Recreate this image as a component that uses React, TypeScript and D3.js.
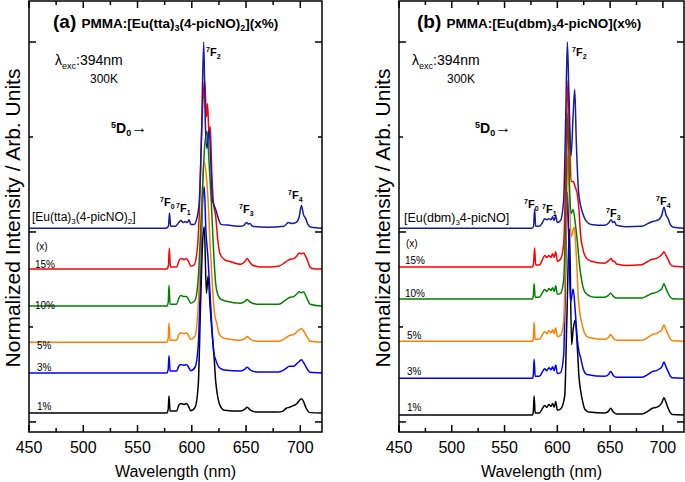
import * as d3 from 'd3';

type Pt = [number, number];

// wavelength axis
const WL_DOMAIN: [number, number] = [450, 720];
const WL_MAJOR = [450, 500, 550, 600, 650, 700];
const WL_MINOR = [475, 525, 575, 625, 675];
const Y_MAJOR = [0, 1, 2];
const Y_MINOR = [0.5, 1.5];

// ---- panel (a) PMMA:[Eu(tta)3(4-picNO)2] ----
const ttaPure: Pt[] = [[450,0],[576,0],[578.5,0.01],[579.5,0.08],[580.5,0.01],[585,0.01],[588,0.03],[590,0.04],[592,0.03],[594,0.035],[596,0.03],[597.5,0.045],[599,0.02],[602,0.02],[605,0.06],[607,0.15],[609,0.5],[611,0.98],[612.5,0.55],[614,0.42],[616,0.52],[617.5,0.35],[619,0.15],[620.5,0.12],[622,0.1],[624,0.06],[627,0.02],[635,0.015],[645,0.01],[648,0.015],[650.5,0.03],[652,0.022],[653.5,0.025],[656,0.01],[670,0.005],[685,0.01],[689,0.03],[692,0.025],[696,0.03],[699,0.06],[701,0.12],[703,0.07],[705,0.05],[707,0.02],[710,0.005],[720,0]];
const tta15: Pt[] = [[450,0],[577,0],[578.5,0.02],[579.3,0.11],[580.3,0.01],[586,0.01],[588,0.04],[590,0.055],[593,0.05],[595,0.055],[597,0.04],[599,0.015],[602,0.02],[605,0.1],[607,0.3],[609,0.7],[611,0.95],[612,0.99],[613.5,0.8],[614.5,0.87],[616,0.7],[617,0.75],[618.5,0.5],[620,0.35],[622,0.28],[624,0.15],[626,0.08],[630,0.05],[635,0.04],[645,0.025],[649,0.04],[651,0.055],[653,0.04],[656,0.02],[665,0.01],[680,0.015],[686,0.035],[690,0.05],[694,0.055],[697,0.07],[699,0.085],[701,0.08],[703,0.085],[705,0.065],[707,0.04],[709,0.01],[712,0.002],[720,0]];
const tta10: Pt[] = [[450,0],[577,0],[578.3,0.02],[579,0.11],[580,0.01],[586,0.01],[588,0.04],[590,0.055],[593,0.05],[595,0.05],[597,0.035],[599,0.015],[603,0.03],[606,0.15],[609,0.5],[612,0.85],[614,0.92],[616,0.75],[618,0.55],[620,0.3],[622,0.12],[624,0.06],[627,0.035],[632,0.025],[645,0.015],[649,0.025],[651,0.035],[654,0.02],[660,0.01],[680,0.01],[686,0.03],[690,0.045],[694,0.05],[697,0.065],[699,0.075],[701,0.07],[703,0.075],[705,0.055],[707,0.03],[709,0.01],[720,0]];
const tta5: Pt[] = [[450,0],[577,0],[578.3,0.02],[579,0.1],[580,0.01],[586,0.01],[588,0.04],[590,0.05],[593,0.045],[595,0.05],[597,0.035],[599,0.015],[603,0.03],[606,0.2],[609,0.65],[611,0.95],[613,0.9],[615,0.75],[617,0.5],[619,0.3],[621,0.15],[623,0.1],[625,0.05],[628,0.025],[635,0.015],[645,0.01],[649,0.02],[651,0.03],[654,0.015],[660,0.005],[680,0.005],[686,0.02],[690,0.035],[694,0.04],[697,0.055],[699,0.065],[701,0.07],[703,0.06],[705,0.04],[707,0.02],[709,0.005],[720,0]];
const tta3: Pt[] = [[450,0],[577,0],[578.3,0.02],[579,0.09],[580,0.01],[586,0.01],[588,0.035],[590,0.045],[593,0.04],[595,0.045],[597,0.03],[599,0.012],[603,0.03],[606,0.15],[608,0.5],[610,0.9],[611.5,0.98],[613,0.75],[615,0.6],[617,0.4],[619,0.2],[620.5,0.1],[622,0.07],[625,0.03],[630,0.015],[645,0.01],[649,0.02],[651,0.03],[654,0.015],[660,0.005],[680,0.005],[686,0.02],[690,0.035],[694,0.035],[697,0.05],[699,0.06],[701,0.07],[703,0.055],[705,0.035],[707,0.015],[709,0.003],[720,0]];
const tta1: Pt[] = [[450,0],[577,0],[578.3,0.02],[579,0.09],[580,0.01],[586,0.01],[588,0.04],[590,0.05],[593,0.045],[595,0.05],[597,0.035],[599,0.012],[603,0.03],[606,0.15],[608,0.55],[610,0.9],[611.5,0.98],[613.5,0.63],[615,0.72],[617,0.55],[619,0.4],[620.5,0.3],[622,0.17],[623.5,0.1],[626,0.04],[630,0.015],[645,0.01],[649,0.02],[651,0.03],[654,0.015],[660,0.005],[680,0.005],[684,0.01],[687,0.025],[690,0.03],[694,0.04],[697,0.05],[699,0.065],[701,0.075],[703,0.06],[705,0.03],[707,0.01],[709,0.002],[720,0]];
const ttaOffsets = [0.047, 0.258, 0.42, 0.61, 0.805, 1.02];

// ---- panel (b) PMMA:[Eu(dbm)3 4-picNO] ----
const dbmPure: Pt[] = [[450,0],[576,0],[577.5,0.01],[578.5,0.1],[579.5,0.01],[583,0.01],[586,0.03],[588,0.05],[590,0.045],[592,0.05],[594,0.045],[595.5,0.06],[597,0.04],[598.5,0.065],[600,0.03],[603,0.04],[606,0.15],[608,0.6],[609.5,0.98],[611,0.7],[613,0.38],[615,0.6],[616.5,0.73],[618,0.45],[620,0.2],[622,0.12],[624,0.08],[627,0.04],[632,0.02],[645,0.015],[649,0.03],[651,0.045],[652.5,0.03],[654,0.035],[656,0.015],[665,0.008],[680,0.01],[686,0.025],[690,0.035],[694,0.04],[697,0.05],[699,0.07],[701,0.11],[703,0.07],[705,0.05],[707,0.02],[710,0.005],[720,0]];
const dbm15: Pt[] = [[450,0],[576.5,0],[577.5,0.02],[578.5,0.1],[579.5,0.01],[583,0.01],[586,0.04],[588,0.06],[590,0.05],[592,0.06],[594,0.05],[595.5,0.07],[597,0.05],[598.5,0.08],[600,0.03],[603,0.04],[606,0.12],[608,0.5],[610,0.98],[611.5,0.7],[613,0.45],[615,0.45],[617,0.42],[619,0.38],[620.5,0.3],[622,0.17],[624,0.1],[627,0.05],[632,0.03],[645,0.02],[649,0.035],[651,0.045],[652.5,0.03],[654,0.03],[656,0.015],[665,0.008],[680,0.012],[686,0.03],[690,0.04],[694,0.045],[697,0.055],[699,0.065],[701,0.08],[703,0.06],[705,0.04],[707,0.015],[710,0.003],[720,0]];
const dbm10: Pt[] = [[450,0],[576.5,0],[577.3,0.02],[578,0.08],[579,0.01],[583,0.01],[586,0.035],[588,0.05],[590,0.04],[592,0.055],[594,0.045],[595.5,0.06],[597,0.04],[598.5,0.07],[600,0.025],[603,0.03],[606,0.1],[608,0.45],[610,0.98],[611.5,0.6],[613,0.45],[615,0.47],[617,0.4],[619,0.3],[621,0.18],[623,0.1],[625,0.05],[628,0.025],[635,0.01],[645,0.01],[648.5,0.02],[650.5,0.03],[653,0.015],[656,0.005],[680,0.005],[686,0.02],[690,0.03],[694,0.035],[697,0.045],[699,0.055],[701,0.08],[703,0.055],[705,0.03],[707,0.01],[709,0.002],[720,0]];
const dbm5: Pt[] = [[450,0],[576.5,0],[577.3,0.02],[578,0.1],[579,0.01],[583,0.01],[586,0.035],[588,0.05],[590,0.04],[592,0.055],[594,0.045],[595.5,0.06],[597,0.04],[598.5,0.07],[600,0.025],[603,0.03],[606,0.1],[608,0.5],[610,0.98],[611.5,0.75],[613,0.55],[616,0.6],[618,0.45],[620,0.22],[621.5,0.14],[623,0.1],[626,0.04],[630,0.02],[645,0.01],[648.5,0.02],[650.5,0.035],[653,0.015],[656,0.005],[680,0.005],[686,0.02],[690,0.035],[694,0.04],[697,0.05],[699,0.06],[701,0.085],[703,0.06],[705,0.035],[707,0.012],[709,0.002],[720,0]];
const dbm3: Pt[] = [[450,0],[576.5,0],[577.3,0.02],[578,0.1],[579,0.01],[583,0.01],[586,0.035],[588,0.05],[590,0.04],[592,0.055],[594,0.045],[595.5,0.06],[597,0.04],[598.5,0.07],[600,0.025],[603,0.03],[606,0.12],[608,0.6],[609.5,0.98],[611,0.7],[612.5,0.4],[615,0.47],[617,0.35],[619,0.2],[620.5,0.14],[622,0.11],[624.5,0.05],[628,0.02],[645,0.01],[648.5,0.02],[650.5,0.035],[653,0.015],[656,0.005],[680,0.005],[686,0.02],[690,0.035],[694,0.04],[697,0.05],[699,0.06],[701,0.085],[703,0.06],[705,0.035],[707,0.012],[709,0.002],[720,0]];
const dbm1: Pt[] = [[450,0],[576.5,0],[577.3,0.02],[578,0.1],[579,0.01],[583,0.01],[586,0.035],[588,0.05],[590,0.04],[592,0.055],[594,0.045],[595.5,0.06],[597,0.04],[598.5,0.07],[600,0.025],[603,0.03],[607,0.1],[609,0.5],[611.5,0.98],[613.5,0.37],[615,0.45],[617,0.5],[619,0.35],[620.5,0.2],[622,0.13],[624,0.07],[626,0.03],[630,0.015],[645,0.01],[648.5,0.02],[650.5,0.035],[653,0.015],[656,0.005],[680,0.005],[686,0.02],[690,0.035],[694,0.04],[697,0.05],[699,0.065],[701,0.09],[703,0.065],[705,0.035],[707,0.012],[709,0.002],[720,0]];
const dbmOffsets = [0.037, 0.23, 0.425, 0.647, 0.816, 1.02];

// labels listed top to bottom
const concLabels = ['15%', '10%', '5%', '3%', '1%'];
const seriesColors = ['#000000', '#0000ff', '#ff8000', '#008000', '#ff0000', '#1a1aa0'];

const FONT = '"Liberation Sans", Arial, Helvetica, sans-serif';
const W = 685;
const H = 482;
const TOP = 1;
const BOTTOM = 432;

interface PanelProps {
  left: number;
  right: number;
  series: Pt[][];
  offsets: number[];
  concLabelY: number[];
  xLabelY: number;
  children?: any;
}

function Panel({ left, right, series, offsets, children, concLabelY, xLabelY }: PanelProps) {
  const x = d3.scaleLinear().domain(WL_DOMAIN).range([left, right]);
  const y = d3.scaleLinear().domain([-0.053, 2.216]).range([BOTTOM, TOP]);

  const paths = series.map((s, i) =>
    d3.line<Pt>()
      .x(d => x(d[0]))
      .y(d => y(offsets[i] + d[1]))
      .curve(d3.curveMonotoneX)(s) || ''
  );

  const midX = (left + right) / 2;

  return (
    <g>
      {paths.map((p, i) => (
        <path key={i} d={p} fill="none" stroke={seriesColors[i]} strokeWidth={1.5} strokeLinejoin="round" />
      ))}

      {/* frame */}
      <rect x={left} y={TOP} width={right - left} height={BOTTOM - TOP} fill="none" stroke="#000" strokeWidth={1.5} />

      {/* x ticks, inward, top & bottom */}
      {WL_MAJOR.map(t => (
        <g key={'M' + t}>
          <line x1={x(t)} x2={x(t)} y1={BOTTOM} y2={BOTTOM - 7} stroke="#000" strokeWidth={1.5} />
          <line x1={x(t)} x2={x(t)} y1={TOP} y2={TOP + 7} stroke="#000" strokeWidth={1.5} />
          <text x={x(t)} y={453} textAnchor="middle" fontSize={16} fontFamily={FONT}>{t}</text>
        </g>
      ))}
      {WL_MINOR.map(t => (
        <g key={'m' + t}>
          <line x1={x(t)} x2={x(t)} y1={BOTTOM} y2={BOTTOM - 4} stroke="#000" strokeWidth={1.5} />
          <line x1={x(t)} x2={x(t)} y1={TOP} y2={TOP + 4} stroke="#000" strokeWidth={1.5} />
        </g>
      ))}
      {/* y ticks both sides */}
      {Y_MAJOR.map(t => (
        <g key={'Y' + t}>
          <line x1={left} x2={left + 7} y1={y(t)} y2={y(t)} stroke="#000" strokeWidth={1.5} />
          <line x1={right} x2={right - 7} y1={y(t)} y2={y(t)} stroke="#000" strokeWidth={1.5} />
        </g>
      ))}
      {Y_MINOR.map(t => (
        <g key={'y' + t}>
          <line x1={left} x2={left + 4} y1={y(t)} y2={y(t)} stroke="#000" strokeWidth={1.5} />
          <line x1={right} x2={right - 4} y1={y(t)} y2={y(t)} stroke="#000" strokeWidth={1.5} />
        </g>
      ))}

      <text x={midX} y={xLabelY} textAnchor="middle" fontSize={16} fontFamily={FONT}>Wavelength (nm)</text>
      <text transform={`translate(${left - 9},218) rotate(-90)`} textAnchor="middle" fontSize={21} fontFamily={FONT}>
        Normalized Intensity / Arb. Units
      </text>

      <text x={left + 7} y={concLabelY[0]} fontSize={10} fontFamily={FONT}>(x)</text>
      {concLabels.map((c, i) => (
        <text key={c} x={left + (c.length === 2 ? 8 : 6)} y={concLabelY[i + 1]} fontSize={10} fontFamily={FONT}>{c}</text>
      ))}
      {children}
    </g>
  );
}

function FLabel({ x, y, n }: { x: number; y: number; n: string }) {
  return (
    <text x={x} y={y} fontSize={11} fontWeight="bold" fontFamily={FONT}>
      <tspan fontSize={7} dy={-4}>7</tspan>
      <tspan dy={4}>F</tspan>
      <tspan fontSize={7} dy={3}>{n}</tspan>
    </text>
  );
}

function Excitation({ x, y }: { x: number; y: number }) {
  return (
    <g fontFamily={FONT}>
      <text x={x} y={y} fontSize={14}>
        λ<tspan fontSize={9} dy={4}>exc</tspan><tspan dy={-4}>:394nm</tspan>
      </text>
      <text x={x + 35} y={y + 18} fontSize={12}>300K</text>
    </g>
  );
}

function D0({ x, y }: { x: number; y: number }) {
  return (
    <text x={x} y={y} fontSize={14} fontWeight="bold" fontFamily={FONT}>
      <tspan fontSize={9} dy={-5}>5</tspan>
      <tspan dy={5}>D</tspan>
      <tspan fontSize={9} dy={3}>0</tspan>
      <tspan dy={-3} fontSize={16}>→</tspan>
    </text>
  );
}

export default function App() {
  return (
    <svg width={W} height={H} style={{ position: 'fixed', left: 0, top: 0, background: '#fff' }}>
      <rect width={W} height={H} fill="#fff" />
      <Panel
        left={29} right={322}
        series={[tta1, tta3, tta5, tta10, tta15, ttaPure]}
        offsets={ttaOffsets}
        concLabelY={[250, 268, 309, 349, 371, 410]}
        xLabelY={477}
      >
        <text x={53} y={28} fontFamily={FONT} fontWeight="bold">
          <tspan fontSize={19}>(a) </tspan>
          <tspan fontSize={13.5}>PMMA:[Eu(tta)</tspan>
          <tspan fontSize={9} dy={3}>3</tspan>
          <tspan fontSize={13.5} dy={-3}>(4-picNO)</tspan>
          <tspan fontSize={9} dy={3}>2</tspan>
          <tspan fontSize={13.5} dy={-3}>](x%)</tspan>
        </text>
        <Excitation x={55} y={65} />
        <D0 x={111} y={133} />
        <FLabel x={206} y={56} n="2" />
        <FLabel x={160} y={206} n="0" />
        <FLabel x={176} y={212} n="1" />
        <FLabel x={239} y={213} n="3" />
        <FLabel x={288} y={199} n="4" />
        <text x={32} y={221} fontSize={12} fontFamily={FONT}>
          [Eu(tta)<tspan fontSize={8} dy={3}>3</tspan><tspan dy={-3}>(4-picNO)</tspan><tspan fontSize={8} dy={3}>2</tspan><tspan dy={-3}>]</tspan>
        </text>
      </Panel>
      <Panel
        left={399} right={684}
        series={[dbm1, dbm3, dbm5, dbm10, dbm15, dbmPure]}
        offsets={dbmOffsets}
        concLabelY={[247, 264, 297, 339, 375, 411]}
        xLabelY={477}
      >
        <text x={417} y={28} fontFamily={FONT} fontWeight="bold">
          <tspan fontSize={19}>(b) </tspan>
          <tspan fontSize={13.5}>PMMA:[Eu(dbm)</tspan>
          <tspan fontSize={9} dy={3}>3</tspan>
          <tspan fontSize={13.5} dy={-3}>4-picNO](x%)</tspan>
        </text>
        <Excitation x={412} y={65} />
        <D0 x={475} y={133} />
        <FLabel x={572} y={56} n="2" />
        <FLabel x={524} y={208} n="0" />
        <FLabel x={542} y={213} n="1" />
        <FLabel x={606} y={217} n="3" />
        <FLabel x={656} y={205} n="4" />
        <text x={404} y={222} fontSize={12.5} fontFamily={FONT}>
          [Eu(dbm)<tspan fontSize={8} dy={3}>3</tspan><tspan dy={-3}>4-picNO]</tspan>
        </text>
      </Panel>
    </svg>
  );
}
